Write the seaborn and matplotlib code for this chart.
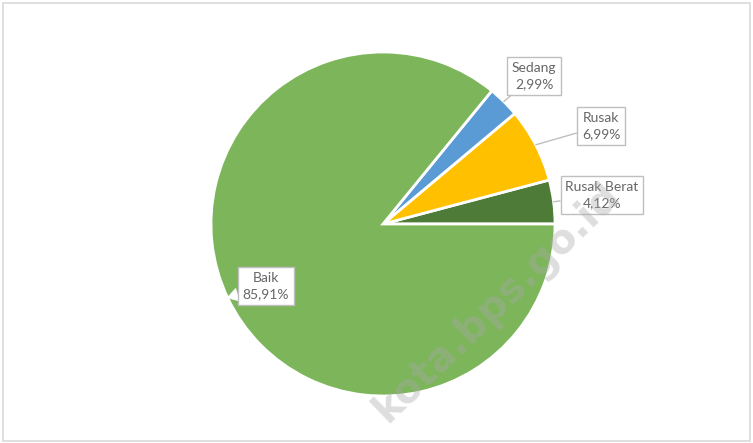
import matplotlib
matplotlib.use("Agg")
import matplotlib.pyplot as plt
import numpy as np
import seaborn as sns
from matplotlib.patches import Rectangle

# ---- data ----
categories = ["Rusak Berat", "Rusak", "Sedang", "Baik"]
values = [4.12, 6.99, 2.99, 85.91]
value_labels = ["4,12%", "6,99%", "2,99%", "85,91%"]
colors = ["#4f7b39", "#ffc000", "#5b9bd5", "#7cb55a"]

sns.set_theme(style="white")
plt.rcParams["font.family"] = ["Lato", "DejaVu Sans"]

W, H = 753, 443
fig = plt.figure(figsize=(W / 100, H / 100), dpi=100)
ax = fig.add_axes([0, 0, 1, 1])

# chart border
ax.add_patch(Rectangle((3.5, 2.5), 747, 438, fill=False, ec="#d9d9d9", lw=1.2))

cx, cy, R = 383, H - 224, 172
wedges, _ = ax.pie(values, colors=colors, startangle=0, counterclock=True,
                   radius=R, center=(cx, cy), frame=True,
                   wedgeprops=dict(edgecolor="white", linewidth=2))
ax.set_xlim(0, W)
ax.set_ylim(0, H)
ax.set_aspect("equal")
ax.axis("off")

# label box centres (pixel coordinates from top-left)
label_pos = {"Sedang": (534, 76), "Rusak": (601, 126),
             "Rusak Berat": (602, 195), "Baik": (266, 286)}

for w, cat, lab in zip(wedges, categories, value_labels):
    mid = np.deg2rad((w.theta1 + w.theta2) / 2)
    xy = (cx + R * np.cos(mid), cy + R * np.sin(mid))
    px, py = label_pos[cat]
    if cat == "Baik":
        arrow = dict(arrowstyle="wedge,tail_width=0.9", fc="white", ec="white",
                     lw=0.8, shrinkA=0, shrinkB=0)
    else:
        arrow = dict(arrowstyle="-", color="#bfbfbf", lw=1, shrinkA=0, shrinkB=0)
    ax.annotate(f"{cat}\n{lab}", xy=xy, xytext=(px, H - py),
                ha="center", va="center", multialignment="center",
                fontsize=10, color="#666666", linespacing=1.45,
                bbox=dict(boxstyle="square,pad=0.35", fc="white", ec="#bfbfbf", lw=1),
                arrowprops=arrow, zorder=5)

# watermark
ax.text(497, H - 302, "kota.bps.go.id", rotation=44, ha="center", va="center",
        fontsize=29, fontweight="bold", color="#a8a8a8", alpha=0.38,
        family=["DejaVu Sans"], zorder=6)

fig.savefig("out.png", dpi=100)
